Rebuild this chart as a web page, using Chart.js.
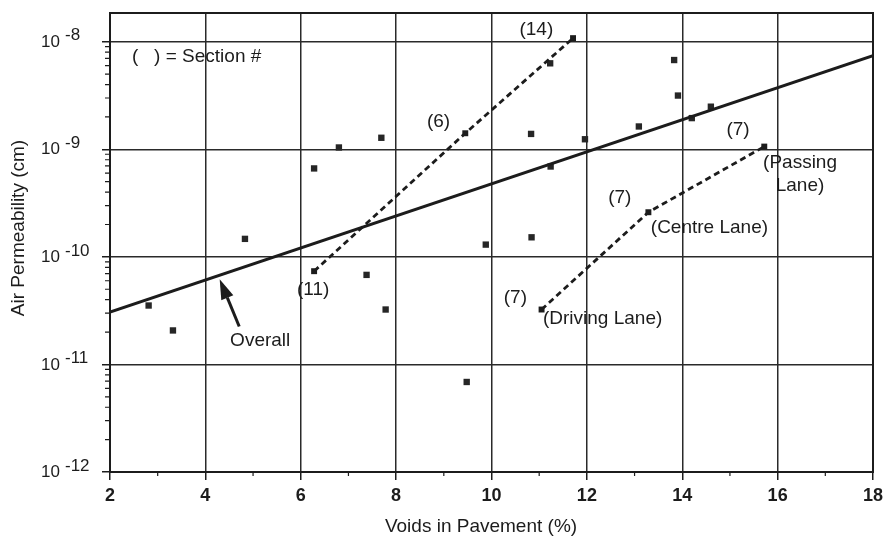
<!DOCTYPE html>
<html><head><meta charset="utf-8">
<script src="https://cdn.jsdelivr.net/npm/chart.js@4.4.0/dist/chart.umd.min.js"></script>
<style>html,body{margin:0;padding:0;background:#fff;}#wrap{width:883px;height:539px;}</style>
</head><body><div id="wrap"><canvas id="c" width="883" height="539"></canvas></div>
<script>
// ---- data ----
const scatterVoids = [2.81, 3.32, 4.83, 6.28, 6.80, 7.69, 7.38, 7.78, 9.48, 9.88, 10.84, 10.83, 11.23, 11.24, 11.96, 13.09, 13.83, 13.91, 14.20, 14.60];
const scatterPerm  = [3.53e-11, 2.07e-11, 1.47e-10, 6.64e-10, 1.04e-9, 1.28e-9, 6.8e-11, 3.24e-11, 6.87e-12, 1.3e-10, 1.52e-10, 1.39e-9, 6.3e-9, 6.92e-10, 1.24e-9, 1.63e-9, 6.76e-9, 3.16e-9, 1.95e-9, 2.49e-9];
const sectionVoids = [6.28, 9.45, 11.71];
const sectionPerm  = [7.36e-11, 1.41e-9, 1.08e-8];
const laneVoids = [11.05, 13.29, 15.72];
const lanePerm  = [3.24e-11, 2.6e-10, 1.06e-9];
const fitVoids = [2, 18];
const fitPerm  = [3.06e-11, 7.44e-9];
const xTickValues = [2, 4, 6, 8, 10, 12, 14, 16, 18];
const xMinorValues = [3, 5, 7, 9, 11, 13, 15, 17];
const yDecades = [-12, -11, -10, -9, -8];
const xTitle = 'Voids in Pavement (%)';
const yTitle = 'Air Permeability (cm)';

// annotations anchored in data units
const notes = [
  {text: '(   ) = Section #', x: 2.46, y: 7.2e-9, align: 'left'},
  {text: '(14)', x: 10.94, y: 1.29e-8},
  {text: '(6)', x: 8.89, y: 1.8e-9},
  {text: '(11)', x: 6.26, y: 4.97e-11},
  {text: '(7)', x: 15.17, y: 1.52e-9},
  {text: '(Passing', x: 16.47, y: 7.5e-10},
  {text: 'Lane)', x: 16.47, y: 4.58e-10},
  {text: '(7)', x: 12.69, y: 3.55e-10},
  {text: '(Centre Lane)', x: 14.57, y: 1.87e-10},
  {text: '(7)', x: 10.50, y: 4.2e-11},
  {text: '(Driving Lane)', x: 12.33, y: 2.63e-11},
  {text: 'Overall', x: 5.15, y: 1.67e-11}
];
const arrowTip = {x: 4.30, y: 6.2e-11};
const arrowTail = {x: 4.71, y: 2.25e-11};

const FONT = '"Liberation Sans", Arial, Helvetica, sans-serif';
const INK = '#1c1c1c';
const toPts = (xs, ys) => xs.map((v, i) => ({x: v, y: ys[i]}));

const extras = {
  id: 'extras',
  afterDraw(chart) {
    const ctx = chart.ctx, a = chart.chartArea;
    const xs = chart.scales.x, ys = chart.scales.y;
    ctx.save();
    // frame
    ctx.strokeStyle = INK; ctx.lineWidth = 2;
    ctx.strokeRect(a.left, a.top, a.right - a.left, a.bottom - a.top);
    // minor ticks
    ctx.lineWidth = 1.2;
    ctx.beginPath();
    yDecades.forEach(e => {
      for (let k = 2; k <= 9; k++) {
        const v = k * Math.pow(10, e);
        if (v > ys.max) continue;
        const py = ys.getPixelForValue(v);
        ctx.moveTo(a.left - 5, py); ctx.lineTo(a.left, py);
      }
    });
    xMinorValues.forEach(v => {
      const px = xs.getPixelForValue(v);
      ctx.moveTo(px, a.bottom); ctx.lineTo(px, a.bottom + 4);
    });
    ctx.stroke();
    // y tick labels 10^n
    ctx.fillStyle = INK;
    yDecades.forEach(e => {
      const py = ys.getPixelForValue(Math.pow(10, e));
      ctx.font = '17px ' + FONT;
      ctx.textAlign = 'right'; ctx.textBaseline = 'middle';
      ctx.fillText('10', 60, py + 0.5);
      ctx.font = '17px ' + FONT;
      ctx.textAlign = 'left';
      ctx.fillText(String(e), 65, py - 6);
    });
    // annotations
    ctx.font = '19px ' + FONT;
    ctx.textBaseline = 'middle';
    notes.forEach(n => {
      ctx.textAlign = n.align || 'center';
      ctx.fillText(n.text, xs.getPixelForValue(n.x), ys.getPixelForValue(n.y));
    });
    // arrow
    const tx = xs.getPixelForValue(arrowTip.x), ty = ys.getPixelForValue(arrowTip.y);
    const sx = xs.getPixelForValue(arrowTail.x), sy = ys.getPixelForValue(arrowTail.y);
    const ang = Math.atan2(ty - sy, tx - sx);
    const hl = 20, hw = 6.5;
    const bx = tx - hl * Math.cos(ang), by = ty - hl * Math.sin(ang);
    ctx.strokeStyle = INK; ctx.lineWidth = 3;
    ctx.beginPath(); ctx.moveTo(sx, sy); ctx.lineTo(bx, by); ctx.stroke();
    ctx.beginPath();
    ctx.moveTo(tx, ty);
    ctx.lineTo(bx + hw * Math.sin(ang), by - hw * Math.cos(ang));
    ctx.lineTo(bx - hw * Math.sin(ang), by + hw * Math.cos(ang));
    ctx.closePath(); ctx.fill();
    // axis titles
    ctx.font = '19px ' + FONT;
    ctx.textAlign = 'center'; ctx.textBaseline = 'middle';
    ctx.fillText(xTitle, 481, 527);
    ctx.translate(19, 228); ctx.rotate(-Math.PI / 2);
    ctx.fillText(yTitle, 0, 0);
    ctx.restore();
  }
};

new Chart(document.getElementById('c'), {
  type: 'scatter',
  data: {
    datasets: [
      {data: toPts(fitVoids, fitPerm), showLine: true, borderColor: INK, borderWidth: 3, pointRadius: 0, order: 1},
      {data: toPts(sectionVoids, sectionPerm), showLine: true, borderColor: INK, borderWidth: 2.8, borderDash: [6, 4],
       pointStyle: 'rect', pointRadius: 4.2, pointBackgroundColor: INK, pointBorderWidth: 0, order: 2},
      {data: toPts(laneVoids, lanePerm), showLine: true, borderColor: INK, borderWidth: 2.8, borderDash: [6, 4],
       pointStyle: 'rect', pointRadius: 4.2, pointBackgroundColor: INK, pointBorderWidth: 0, order: 3},
      {data: toPts(scatterVoids, scatterPerm), showLine: false, pointStyle: 'rect', pointRadius: 4.5,
       pointBackgroundColor: '#262626', pointBorderWidth: 0, order: 4}
    ]
  },
  options: {
    responsive: false, animation: false, devicePixelRatio: 1,
    layout: {padding: {top: 13, right: 10, left: 0, bottom: 0}},
    plugins: {legend: {display: false}, tooltip: {enabled: false}},
    scales: {
      x: {
        type: 'linear', min: 2, max: 18,
        afterBuildTicks: s => { s.ticks = xTickValues.map(v => ({value: v})); },
        afterFit: s => { s.height = 67; s.paddingLeft = 0; s.paddingRight = 0; },
        ticks: {font: {family: FONT, size: 18, weight: 'bold'}, color: INK, padding: 5, maxRotation: 0},
        grid: {color: '#2a2a2a', lineWidth: 1.5, tickLength: 8, tickColor: INK, tickWidth: 1.5},
        border: {display: false}
      },
      y: {
        type: 'logarithmic', min: 1e-12, max: 1.85e-8,
        afterBuildTicks: s => { s.ticks = yDecades.map(e => ({value: Math.pow(10, e)})); },
        afterFit: s => { s.width = 110; s.paddingTop = 0; s.paddingBottom = 0; },
        ticks: {display: false},
        grid: {color: '#2a2a2a', lineWidth: 1.5, tickLength: 8, tickColor: INK, tickWidth: 1.5},
        border: {display: false}
      }
    }
  },
  plugins: [extras]
});
</script></body></html>
